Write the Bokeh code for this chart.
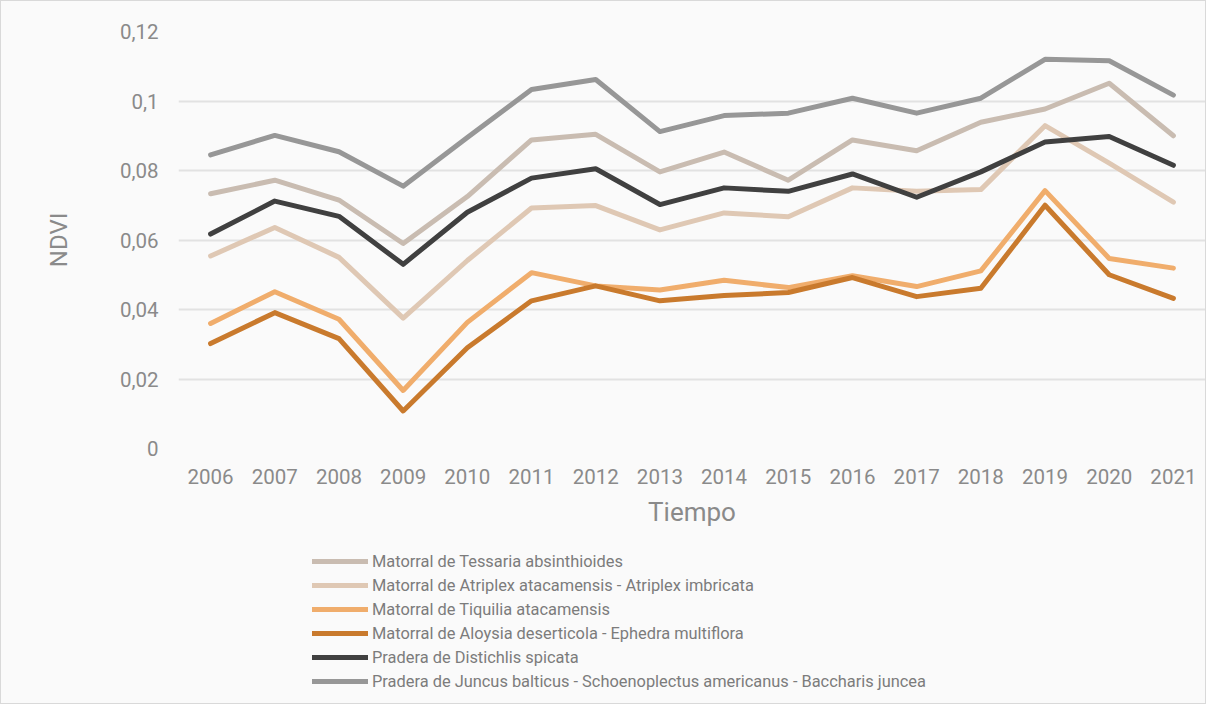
from bokeh.plotting import figure
from bokeh.layouts import column
from bokeh.models import Range1d, FactorRange, FixedTicker, Legend, LegendItem
from bokeh.embed import file_html
from bokeh.resources import INLINE

years = ["2006", "2007", "2008", "2009", "2010", "2011", "2012", "2013",
         "2014", "2015", "2016", "2017", "2018", "2019", "2020", "2021"]

tessaria = [0.0733, 0.0772, 0.0715, 0.0590, 0.0725, 0.0888, 0.0904, 0.0796,
            0.0853, 0.0772, 0.0888, 0.0857, 0.0939, 0.0977, 0.1051, 0.0900]
atriplex = [0.0554, 0.0636, 0.0550, 0.0375, 0.0541, 0.0692, 0.0699, 0.0629,
            0.0678, 0.0667, 0.0750, 0.0740, 0.0745, 0.0929, 0.0821, 0.0709]
tiquilia = [0.0360, 0.0451, 0.0372, 0.0167, 0.0363, 0.0506, 0.0468, 0.0456,
            0.0484, 0.0463, 0.0497, 0.0466, 0.0511, 0.0742, 0.0547, 0.0519]
aloysia = [0.0302, 0.0391, 0.0316, 0.0108, 0.0290, 0.0425, 0.0468, 0.0425,
           0.0440, 0.0449, 0.0492, 0.0437, 0.0461, 0.0700, 0.0500, 0.0432]
distichlis = [0.0617, 0.0712, 0.0668, 0.0530, 0.0680, 0.0778, 0.0805, 0.0702,
              0.0750, 0.0740, 0.0790, 0.0723, 0.0796, 0.0882, 0.0898, 0.0815]
juncus = [0.0845, 0.0901, 0.0854, 0.0755, 0.0895, 0.1033, 0.1062, 0.0912,
          0.0958, 0.0965, 0.1008, 0.0965, 0.1008, 0.1120, 0.1116, 0.1017]

series_names = [
    "Matorral de Tessaria absinthioides",
    "Matorral de Atriplex atacamensis - Atriplex imbricata",
    "Matorral de Tiquilia atacamensis",
    "Matorral de Aloysia deserticola - Ephedra multiflora",
    "Pradera de Distichlis spicata",
    "Pradera de Juncus balticus - Schoenoplectus americanus - Baccharis juncea",
]
series_values = [tessaria, atriplex, tiquilia, aloysia, distichlis, juncus]
series_colors = ["#c9bcb1", "#dfc8b4", "#f0ad6c", "#c97a2d", "#404040", "#979797"]

y_ticks = [0, 0.02, 0.04, 0.06, 0.08, 0.1, 0.12]
y_tick_labels = ["0", "0,02", "0,04", "0,06", "0,08", "0,1", "0,12"]

FONT = "Roboto"
TXT = "#8a8a8a"
BG = "#fafafa"

p = figure(width=1204, height=544, x_range=FactorRange(*years, range_padding=0),
           y_range=Range1d(0, 0.12), output_backend="svg", toolbar_location=None,
           min_border_left=177, min_border_right=0, min_border_top=30,
           min_border_bottom=97)

p.background_fill_color = BG
p.border_fill_color = BG
p.outline_line_color = None

p.xgrid.grid_line_color = None
p.ygrid.grid_line_color = "#e2e2e2"
p.ygrid.grid_line_width = 2
p.yaxis.ticker = FixedTicker(ticks=y_ticks)
p.yaxis.major_label_overrides = {t: l for t, l in zip(y_ticks, y_tick_labels)}

for ax in (p.xaxis[0], p.yaxis[0]):
    ax.axis_line_color = None
    ax.major_tick_line_color = None
    ax.minor_tick_line_color = None
    ax.major_tick_out = 0
    ax.minor_tick_out = 0
    ax.major_label_text_font = FONT
    ax.major_label_text_color = TXT
    ax.major_label_text_font_size = "20.5px"
    ax.axis_label_text_font = FONT
    ax.axis_label_text_color = TXT
    ax.axis_label_text_font_style = "normal"

p.xaxis.axis_label = "Tiempo"
p.xaxis.axis_label_text_font_size = "26px"
p.xaxis.major_label_standoff = 20
p.xaxis.axis_label_standoff = 10

p.yaxis.axis_label = "NDVI"
p.yaxis.axis_label_text_font_size = "24px"
p.yaxis.major_label_standoff = 20
p.yaxis.axis_label_standoff = 44

for vals, col in zip(series_values, series_colors):
    p.line(years, vals, line_color=col, line_width=5,
           line_join="round", line_cap="round")

# legend panel below the chart (its own series are kept out of view)
lg = figure(width=1204, height=158, x_range=p.x_range, y_range=Range1d(1, 2),
            output_backend="svg", toolbar_location=None,
            min_border_left=177, min_border_right=0, min_border_top=0,
            min_border_bottom=0)
lg.axis.visible = False
lg.grid.visible = False
lg.background_fill_color = BG
lg.border_fill_color = BG
lg.outline_line_color = None

items = []
for name, vals, col in zip(series_names, series_values, series_colors):
    r = lg.line(years, vals, line_color=col, line_width=5, line_cap="round")
    items.append(LegendItem(label=name, renderers=[r]))

legend = Legend(items=items, location=(134, 10), orientation="vertical",
                background_fill_alpha=0, border_line_color=None,
                padding=0, margin=0, spacing=0,
                glyph_width=56, glyph_height=24, label_height=24,
                label_standoff=4, label_text_font=FONT,
                label_text_font_size="16.4px", label_text_color="#7c7c7c")
lg.add_layout(legend, "center")

layout = column(p, lg, spacing=0,
                styles={"border": "1px solid #d9d9d9", "background-color": BG})

open("out.html", "w").write(file_html(layout, INLINE))
